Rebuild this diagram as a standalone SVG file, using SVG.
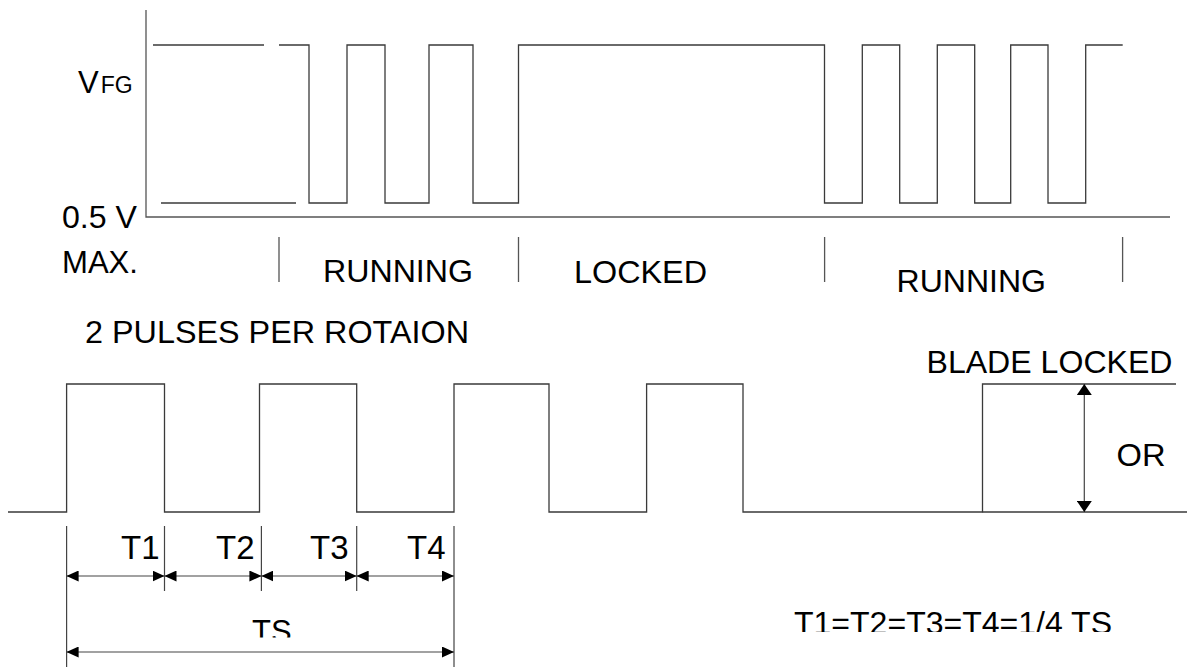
<svg xmlns="http://www.w3.org/2000/svg" width="1187" height="667" viewBox="0 0 1187 667">
<style>
.w{fill:none;stroke:#3a3a3a;stroke-width:1.3}
.ax{fill:none;stroke:#555;stroke-width:1.3}
.d{fill:none;stroke:#444;stroke-width:1.2}
text{font-family:"Liberation Sans",Arial,sans-serif;font-size:31px;fill:#000}
.tl{font-size:33px}
</style>
<defs>
<marker id="ah" viewBox="0 0 12 11" refX="12" refY="5.5" markerWidth="12" markerHeight="11" markerUnits="userSpaceOnUse" orient="auto-start-reverse">
<path d="M0,0 L12,5.5 L0,11 Z" fill="#000"/>
</marker>
<marker id="ahv" viewBox="0 0 11 15" refX="11" refY="7.5" markerWidth="11" markerHeight="15" markerUnits="userSpaceOnUse" orient="auto-start-reverse">
<path d="M0,0 L11,7.5 L0,15 Z" fill="#000"/>
</marker>
<clipPath id="cTS"><rect x="0" y="590" width="1187" height="47.5"/></clipPath>
<clipPath id="cEq"><rect x="0" y="590" width="1187" height="42"/></clipPath>
</defs>
<rect width="1187" height="667" fill="#fff"/>

<g id="top-graph">
<path class="ax" d="M146,10 V217 H1170"/>
<path class="w" d="M153,45 H264"/>
<path class="w" d="M161,203 H296"/>
<path class="w" d="M279,45 H309 V203 H347 V45 H385 V203 H429 V45 H473 V203 H518.5 V45 H824.5 V203 H862.3 V45 H899.7 V203 H937.3 V45 H974.7 V203 H1010.7 V45 H1048 V203 H1085.7 V45 H1122.7"/>
<path class="ax" d="M279,237 V282 M518.5,237 V282 M824.6,237 V282 M1122.6,237 V282"/>
<text x="78" y="93">V<tspan font-size="23" dx="2">FG</tspan></text>
<text x="62" y="228" textLength="75" lengthAdjust="spacingAndGlyphs">0.5 V</text>
<text x="62" y="273" textLength="76" lengthAdjust="spacingAndGlyphs">MAX.</text>
<text x="323" y="282" textLength="150" lengthAdjust="spacingAndGlyphs">RUNNING</text>
<text x="574" y="283" textLength="133" lengthAdjust="spacingAndGlyphs">LOCKED</text>
<text x="896.5" y="292" textLength="149.5" lengthAdjust="spacingAndGlyphs">RUNNING</text>
</g>

<g id="bottom-graph">
<text x="85" y="343" textLength="384" lengthAdjust="spacingAndGlyphs">2 PULSES PER ROTAION</text>
<path class="w" d="M8,512 H66.6 V384 H164.5 V512 H259.5 V384 H356.7 V512 H454 V384 H549 V512 H646.6 V384 H743 V512 H982.5 V384 H1176"/>
<path class="w" d="M982.5,512 H1187"/>
<text x="926.5" y="373" textLength="246" lengthAdjust="spacingAndGlyphs">BLADE LOCKED</text>
<text x="1116.5" y="466" textLength="49" lengthAdjust="spacingAndGlyphs">OR</text>
<text x="794" y="634" clip-path="url(#cEq)" textLength="318" lengthAdjust="spacingAndGlyphs">T1=T2=T3=T4=1/4 TS</text>
</g>

<g id="dimensions">
<path class="d" d="M66.6,526 V667 M164.5,526 V591 M261.4,526 V591 M356.7,526 V591 M454,526 V667"/>
<text class="tl" x="121" y="559">T1</text>
<text class="tl" x="216" y="559">T2</text>
<text class="tl" x="310" y="559">T3</text>
<text class="tl" x="407" y="559">T4</text>
<text x="252" y="642" clip-path="url(#cTS)">TS</text>
</g>

<g id="connectors">
<line class="d" x1="66.6" y1="576" x2="164.5" y2="576" marker-start="url(#ah)" marker-end="url(#ah)"/>
<line class="d" x1="164.5" y1="576" x2="261.4" y2="576" marker-start="url(#ah)" marker-end="url(#ah)"/>
<line class="d" x1="261.4" y1="576" x2="356.7" y2="576" marker-start="url(#ah)" marker-end="url(#ah)"/>
<line class="d" x1="356.7" y1="576" x2="454" y2="576" marker-start="url(#ah)" marker-end="url(#ah)"/>
<line class="d" x1="66.6" y1="652" x2="454" y2="652" marker-start="url(#ah)" marker-end="url(#ah)"/>
<line class="d" x1="1084.3" y1="384" x2="1084.3" y2="512" marker-start="url(#ahv)" marker-end="url(#ahv)"/>
</g>
</svg>
